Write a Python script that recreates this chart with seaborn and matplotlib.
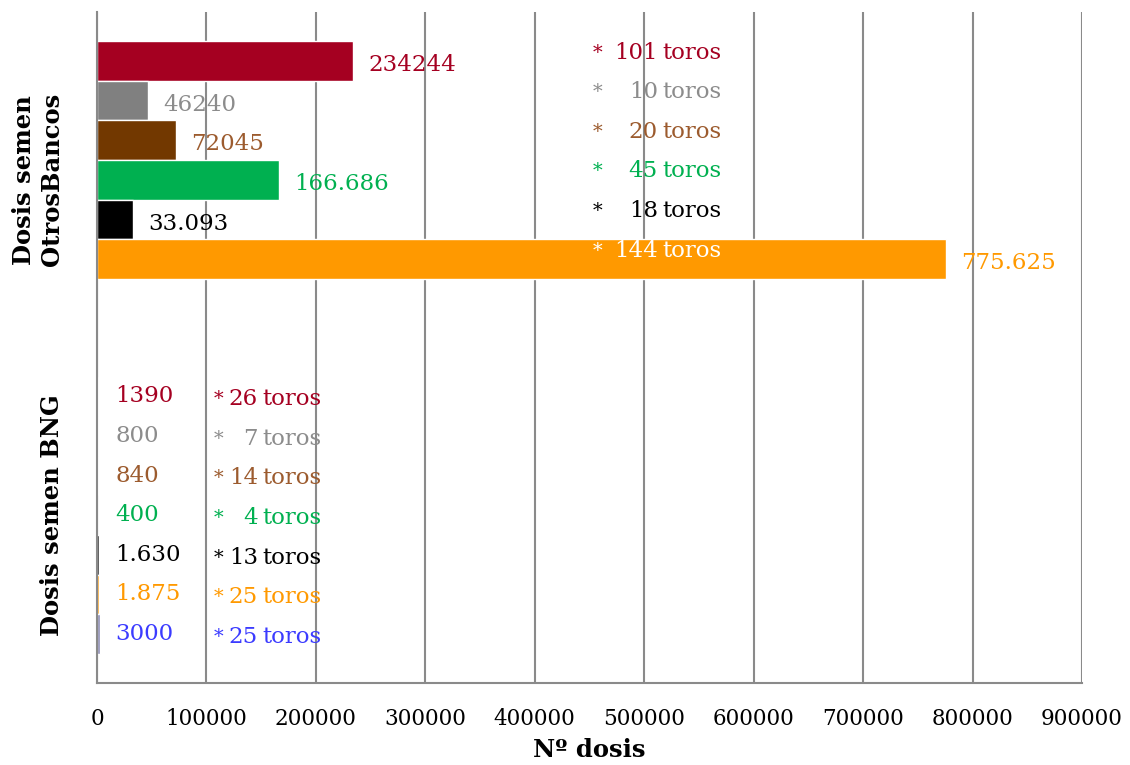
import pandas as pd
import numpy as np
import matplotlib
matplotlib.use("Agg")
import matplotlib.pyplot as plt
import seaborn as sns

# ==========================================
# DATA
# ==========================================
categories = ["Dosis semen\nOtrosBancos", "Dosis semen BNG"]
series = ["s1", "s2", "s3", "s4", "s5", "s6", "s7"]

otros_values = [234244, 46240, 72045, 166686, 33093, 775625, np.nan]
bng_values = [1390, 800, 840, 400, 1630, 1875, 3000]

otros_labels = ["234244", "46240", "72045", "166.686", "33.093", "775.625", ""]
bng_labels = ["1390", "800", "840", "400", "1.630", "1.875", "3000"]

otros_toros = ["101", "10", "20", "45", "18", "144", ""]
bng_toros = ["26", "7", "14", "4", "13", "25", "25"]

bar_colors = ["#A50021", "#808080", "#723800", "#00B050", "#000000", "#FF9900", "#8C8CB4"]
text_colors = ["#A50021", "#8C8C8C", "#9C5B2E", "#00B050", "#000000", "#FF9900", "#3B3BFF"]

# ==========================================
# BUILD LONG TABLE
# ==========================================
df = pd.DataFrame({
    "Categoria": [categories[0]] * len(series) + [categories[1]] * len(series),
    "Serie": series * 2,
    "Dosis": otros_values + bng_values,
})

sns.set_theme(style="white")
plt.rcParams["font.family"] = ["DejaVu Serif", "DejaVu Sans"]

GRID = "#8A8A8A"

fig = plt.figure(figsize=(11.3, 7.65), dpi=100)
ax = fig.add_axes([0.0858, 0.1072, 0.9575 - 0.0858, 0.9843 - 0.1072])

sns.barplot(data=df, y="Categoria", x="Dosis", hue="Serie", hue_order=series,
            order=categories, palette=bar_colors, orient="h", width=0.826,
            saturation=1, legend=False, ax=ax, errorbar=None)

ax.set_xlim(0, 900000)
ax.set_ylim(1.5, -0.5)
ax.set_xticks(np.arange(0, 900001, 100000))
ax.set_xticklabels([str(v) for v in range(0, 900001, 100000)], fontsize=15.5)
ax.tick_params(axis="x", direction="out", length=5, width=1.5, color=GRID, pad=13,
               labelcolor="black")

ax.set_yticks([0, 1])
ax.set_yticklabels(categories, rotation=90, fontsize=17.5, fontweight="bold",
                   va="center", multialignment="center", color="black")
ax.set_yticks([-0.5, 0.5, 1.5], minor=True)
ax.tick_params(axis="y", which="major", length=0, pad=24)
ax.tick_params(axis="y", which="minor", direction="out", length=6, width=1.5, color=GRID)

ax.set_xlabel("Nº dosis", fontsize=17.5, fontweight="bold", labelpad=6, color="black")
ax.set_ylabel("")

ax.grid(axis="x", color=GRID, linewidth=1.5)
ax.grid(axis="y", visible=False)
ax.set_axisbelow(True)
for side in ["top", "right"]:
    ax.spines[side].set_visible(False)
for side in ["left", "bottom"]:
    ax.spines[side].set_color(GRID)
    ax.spines[side].set_linewidth(1.5)

# ==========================================
# LABELS
# ==========================================
all_labels = [otros_labels, bng_labels]
all_toros = [otros_toros, bng_toros]
star_x = [457000, 111500]
num_x = [512500, 147000]
toros_dy = [6, -2]
FS = 16.5

for j, cont in enumerate(ax.containers):
    for p in cont.patches:
        w = p.get_width()
        if np.isnan(w):
            continue
        yc = p.get_y() + p.get_height() / 2
        i = int(round(yc))  # category index from bar position
        if i == 0:
            ax.annotate(all_labels[i][j], (w, yc), xytext=(11, -3), textcoords="offset points",
                        ha="left", va="center", fontsize=FS, color=text_colors[j])
        else:
            ax.annotate(all_labels[i][j], (0, yc), xytext=(13, 0), textcoords="offset points",
                        ha="left", va="center", fontsize=FS, color=text_colors[j])
        if all_toros[i][j] == "":
            continue
        tc = text_colors[j]
        if i == 0 and j == 5:
            tc = "white"
        ax.annotate("*", (star_x[i], yc), xytext=(0, toros_dy[i]), textcoords="offset points",
                    ha="center", va="center", fontsize=14, color=tc)
        ax.annotate(all_toros[i][j], (num_x[i], yc), xytext=(0, toros_dy[i]), textcoords="offset points",
                    ha="right", va="center", fontsize=FS, color=tc)
        ax.annotate("toros", (num_x[i], yc), xytext=(3, toros_dy[i]), textcoords="offset points",
                    ha="left", va="center", fontsize=FS, color=tc)

fig.savefig("out.png", dpi=100)
